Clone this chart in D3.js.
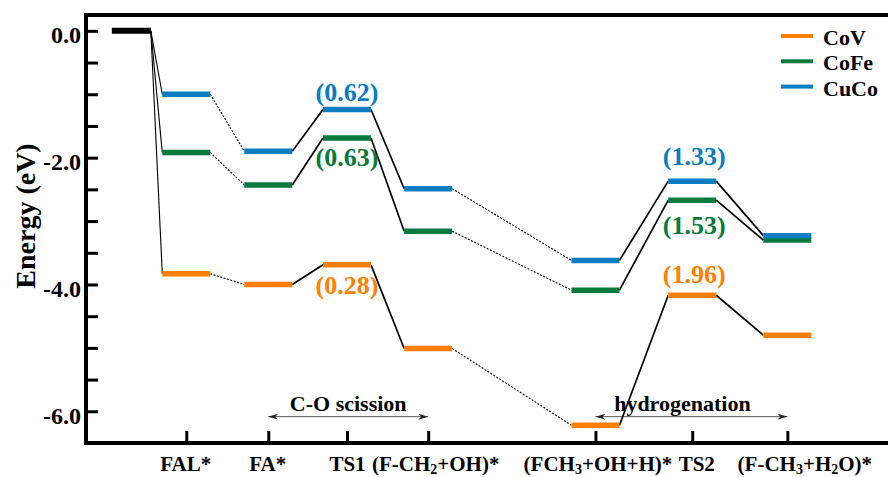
<!DOCTYPE html>
<html>
<head>
<meta charset="utf-8">
<script src="https://cdn.jsdelivr.net/npm/d3@7"></script>
<style>
  body { margin: 0; background: #fff; }
  svg { display: block; }
  svg text { font-family: "Liberation Serif", "Times New Roman", serif; font-weight: bold; }
</style>
</head>
<body>
<svg id="chart" width="888" height="477"></svg>
<script>
// reaction steps (label, position along the reaction coordinate)
var steps = ['FAL*', 'FA*', 'TS1', '(F-CH_2+OH)*', '(FCH_3+OH+H)*', 'TS2', '(F-CH_3+H_2O)*'];
var stepPos = [1.04, 2.04, 3.0, 3.99, 6.03, 7.21, 8.37];
var startPos = 0.37;
var startEnergy = 0.0;

// energies (eV)
var energyCoV  = [-3.83, -4.00, -3.69, -5.01, -6.22, -4.17, -4.80];
var energyCoFe = [-1.92, -2.43, -1.69, -3.16, -4.09, -2.67, -3.30];
var energyCuCo = [-1.00, -1.90, -1.24, -2.49, -3.62, -2.37, -3.23];

var seriesNames = ['CoV', 'CoFe', 'CuCo'];
var dottedLinks = [0, 3];   // link from step i to i+1 drawn dotted

// barrier labels
var barrierSeries = ['CuCo', 'CoFe', 'CoV', 'CuCo', 'CoFe', 'CoV'];
var barrierStep   = [2, 2, 2, 5, 5, 5];
var barrierText   = ['(0.62)', '(0.63)', '(0.28)', '(1.33)', '(1.53)', '(1.96)'];

// region annotations
var regionText = ['C-O scission', 'hydrogenation'];
var regionFrom = [1, 4];
var regionTo   = [3, 6];

var yTicks = d3.range(-6, 0.01, 0.5);

// ---- layout
var colors = {CoV: '#ff8000', CoFe: '#087a3c', CuCo: '#0a7cc0'};
var energies = {CoV: energyCoV, CoFe: energyCoFe, CuCo: energyCuCo};
var barHalf = 24;
var barrierDy = [-8, 28, 29, -16, 34, -12];
var labelNudge = [-1, -1, 0, 7, 2, 4, 17];
var FONT = '"Liberation Serif", "Times New Roman", serif';

var svg = d3.select('#chart');

var x = d3.scaleLinear().domain([0, 9]).range([101, 839]);
var y = d3.scaleLinear().domain([-6.5, 0.25]).range([443, 15]);

// y axis
var yAxis = d3.axisLeft(y)
  .tickValues(yTicks)
  .tickSizeInner(-12)
  .tickSizeOuter(0)
  .tickPadding(5)
  .tickFormat(function(d){ return (Math.round(d) === d && d % 2 === 0) ? d3.format('.1f')(d).replace('−', '-') : ''; });

var gy = svg.append('g')
  .attr('transform', 'translate(86,0)')
  .call(yAxis)
  .attr('font-family', FONT);
gy.select('.domain').remove();
gy.selectAll('.tick line').attr('stroke', '#000').attr('stroke-width', 3);
gy.selectAll('.tick text')
  .attr('dy', '0.5em')
  .style('font-size', '24px')
  .attr('fill', '#000');

// x axis
var xAxis = d3.axisBottom(x)
  .tickValues(stepPos)
  .tickSizeInner(-12)
  .tickSizeOuter(0)
  .tickPadding(14)
  .tickFormat('');

var gx = svg.append('g')
  .attr('transform', 'translate(0,443)')
  .call(xAxis)
  .attr('font-family', FONT);
gx.select('.domain').remove();
gx.selectAll('.tick line').attr('stroke', '#000').attr('stroke-width', 3);
gx.selectAll('.tick text')
  .attr('dy', '0.68em')
  .attr('x', function(d, i){ return labelNudge[i]; })
  .style('font-size', '21px')
  .attr('fill', '#000')
  .each(function(d, i){
    var t = d3.select(this);
    var parts = steps[i].split('_');
    parts.forEach(function(p, j){
      if (j === 0) { t.append('tspan').text(p); return; }
      t.append('tspan').attr('dy', 3).style('font-size', '14px').text(p[0]);
      t.append('tspan').attr('dy', -3).text(p.slice(1));
    });
  });

// frame
svg.append('path')
  .attr('d', 'M 900 15 H 86 V 443 H 900')
  .attr('fill', 'none')
  .attr('stroke', '#000')
  .attr('stroke-width', 4);

// y title
svg.append('text')
  .attr('transform', 'translate(35,216) rotate(-90)')
  .attr('text-anchor', 'middle')
  .style('font-size', '28px')
  .text('Energy (eV)');

// region annotations
var defs = svg.append('defs');
defs.append('marker')
  .attr('id', 'arrow')
  .attr('viewBox', '0 0 10 6')
  .attr('refX', 10).attr('refY', 3)
  .attr('markerWidth', 10).attr('markerHeight', 6)
  .attr('markerUnits', 'userSpaceOnUse')
  .attr('orient', 'auto-start-reverse')
  .append('path')
  .attr('d', 'M0,0 L10,3 L0,6 L3,3 Z')
  .attr('fill', '#222');

regionText.forEach(function(t, i){
  var x0 = x(stepPos[regionFrom[i]]), x1 = x(stepPos[regionTo[i]]);
  var ay = y(-6.085);
  svg.append('line')
    .attr('x1', x0).attr('x2', x1)
    .attr('y1', ay).attr('y2', ay)
    .attr('stroke', '#555')
    .attr('stroke-width', 1)
    .attr('marker-start', 'url(#arrow)')
    .attr('marker-end', 'url(#arrow)');
  svg.append('text')
    .attr('x', (x0 + x1) / 2 - (i === 1 ? 9 : 0))
    .attr('y', ay - 6)
    .attr('text-anchor', 'middle')
    .style('font-size', '22px')
    .text(t);
});

// connecting lines
var links = svg.append('g');
seriesNames.forEach(function(s){
  var e = energies[s];
  links.append('line')
    .attr('x1', x(startPos) + 19.5).attr('y1', y(startEnergy))
    .attr('x2', x(stepPos[0]) - barHalf).attr('y2', y(e[0]))
    .attr('stroke', '#000').attr('stroke-width', 1.1);
  for (var i = 0; i < e.length - 1; i++) {
    var dotted = dottedLinks.indexOf(i) >= 0;
    links.append('line')
      .attr('x1', x(stepPos[i]) + barHalf).attr('y1', y(e[i]))
      .attr('x2', x(stepPos[i+1]) - barHalf).attr('y2', y(e[i+1]))
      .attr('stroke', '#000')
      .attr('stroke-width', dotted ? 1.1 : 1.7)
      .attr('stroke-dasharray', dotted ? '2,1.5' : null);
  }
});

// energy levels
svg.append('line')
  .attr('x1', x(startPos) - 19.5).attr('x2', x(startPos) + 19.5)
  .attr('y1', y(startEnergy)).attr('y2', y(startEnergy))
  .attr('stroke', '#000').attr('stroke-width', 6);

seriesNames.forEach(function(s){
  svg.append('g').selectAll('line')
    .data(energies[s])
    .enter()
    .append('line')
    .attr('x1', function(d, i){ return x(stepPos[i]) - barHalf; })
    .attr('x2', function(d, i){ return x(stepPos[i]) + barHalf; })
    .attr('y1', d => y(d))
    .attr('y2', d => y(d))
    .attr('stroke', colors[s])
    .attr('stroke-width', 5.5);
});

// barrier labels
barrierText.forEach(function(t, i){
  var s = barrierSeries[i], k = barrierStep[i];
  svg.append('text')
    .attr('x', x(stepPos[k]) + (k === 5 ? 2 : 0))
    .attr('y', y(energies[s][k]) + barrierDy[i])
    .attr('text-anchor', 'middle')
    .attr('fill', colors[s])
    .style('font-size', '26px')
    .text(t);
});

// legend
var legend = svg.append('g').attr('transform', 'translate(781,36)');
seriesNames.forEach(function(s, i){
  var g = legend.append('g').attr('transform', 'translate(0,' + (i * 25.3) + ')');
  g.append('line')
    .attr('x1', 0).attr('x2', 32)
    .attr('stroke', colors[s]).attr('stroke-width', 4);
  g.append('text')
    .attr('x', 42).attr('y', 9)
    .style('font-size', '22px')
    .text(s);
});
</script>
</body>
</html>
